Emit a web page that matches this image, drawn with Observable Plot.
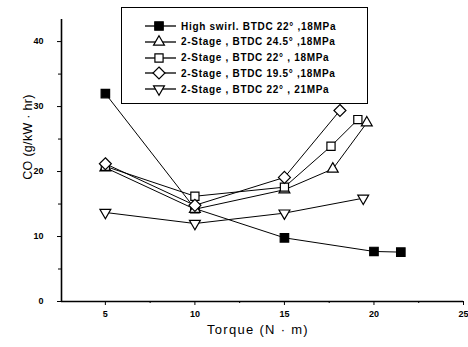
<!DOCTYPE html>
<html>
<head>
<meta charset="utf-8">
<script src="https://cdn.jsdelivr.net/npm/d3@7"></script>
<script src="https://cdn.jsdelivr.net/npm/@observablehq/plot@0.6"></script>
<style>
  html, body { margin: 0; padding: 0; background: #fff; }
  #wrap { position: relative; width: 468px; height: 347px; }
  #wrap svg { font-family: "Liberation Sans", Arial, sans-serif; }
  .axis-title {
    position: absolute; font-family: "Liberation Sans", Arial, sans-serif;
    color: #000; white-space: nowrap;
  }
  #xtitle { left: 207px; top: 322px; font-size: 13px; letter-spacing: 1.3px; }
  #ytitle {
    left: -42px; top: 129px; width: 140px; height: 16px; line-height: 16px; text-align: center;
    font-size: 12.5px; letter-spacing: 0.3px; transform: rotate(-90deg);
  }
  #legend {
    position: absolute; left: 121px; top: 7px; width: 247px; height: 97px;
    border: 1.3px solid #000; background: #fff; box-sizing: border-box;
    font-family: "Liberation Sans", Arial, sans-serif; font-size: 10px; font-weight: bold;
    letter-spacing: 0.7px; color: #000;
  }
  .row { position: absolute; left: 20px; height: 16px; display: flex; align-items: center; white-space: nowrap; }
  .row svg { margin-right: 3px; }
</style>
</head>
<body>
<div id="wrap">
  <div id="legend"></div>
  <div id="xtitle" class="axis-title">Torque (N · m)</div>
  <div id="ytitle" class="axis-title">CO (g/kW · hr)</div>
</div>
<script>
// CO emission vs torque for five injection strategies
const seriesNames = [
  "High swirl. BTDC 22° ,18MPa",
  "2-Stage , BTDC 24.5° ,18MPa",
  "2-Stage , BTDC 22° , 18MPa",
  "2-Stage , BTDC 19.5° ,18MPa",
  "2-Stage , BTDC 22° , 21MPa"
];
const torqueHighSwirl = [5, 10, 15, 20, 21.5];
const coHighSwirl     = [32, 14.3, 9.8, 7.7, 7.6];
const torqueStage245  = [5, 10, 15, 17.7, 19.6];
const coStage245      = [20.6, 14.2, 17.2, 20.4, 27.5];
const torqueStage22   = [5, 10, 15, 17.6, 19.1];
const coStage22       = [20.8, 16.2, 17.6, 23.9, 28.0];
const torqueStage195  = [5, 10, 15, 18.1];
const coStage195      = [21.2, 14.8, 19.1, 29.4];
const torqueStage2221 = [5, 10, 15, 19.4];
const coStage2221     = [13.7, 12.0, 13.6, 15.9];

const xTicks = [5, 10, 15, 20, 25];
const xMinor = [7.5, 12.5, 17.5, 22.5];
const yTicks = [0, 10, 20, 30, 40];
const yMinor = [5, 15, 25, 35];
const xDomain = [2.55, 25];
const yDomain = [0, 43.4];

// marker style per series: symbol, fill, rotation, radius
const styles = [
  {symbol: "square2", fill: "black", rotate: 0, r: 5.4},
  {symbol: "triangle2", fill: "white", rotate: 0, r: 5.2},
  {symbol: "square2", fill: "white", rotate: 0, r: 5.2},
  {symbol: "diamond2", fill: "white", rotate: 0, r: 5.4},
  {symbol: "triangle2", fill: "white", rotate: 180, r: 5.2}
];
const pairs = [
  [torqueHighSwirl, coHighSwirl],
  [torqueStage245, coStage245],
  [torqueStage22, coStage22],
  [torqueStage195, coStage195],
  [torqueStage2221, coStage2221]
];
const data = pairs.map(([xs, ys], i) =>
  xs.map((x, j) => ({series: seriesNames[i], idx: i, torque: x, co: ys[j]})));

const marks = [
  Plot.ruleY([yDomain[0]], {stroke: "black", strokeWidth: 1.6}),
  Plot.ruleX([xDomain[0]], {stroke: "black", strokeWidth: 1.6}),
  Plot.axisX({ticks: xTicks, tickSize: 4, tickPadding: 5, fontWeight: "bold", fontSize: 9, label: null}),
  Plot.axisX({ticks: xMinor, tickSize: 2, tickFormat: () => "", label: null}),
  Plot.axisY({ticks: yTicks, tickSize: 4, tickPadding: 14, fontWeight: "bold", fontSize: 9, label: null}),
  Plot.axisY({ticks: yMinor, tickSize: 3, tickFormat: () => "", label: null})
];
data.forEach(d => marks.push(Plot.line(d, {x: "torque", y: "co", stroke: "black", strokeWidth: 1})));
data.forEach((d, i) => {
  const s = styles[i];
  marks.push(Plot.dot(d, {x: "torque", y: "co", symbol: () => s.symbol, r: s.r,
    fill: s.fill, stroke: "black", strokeWidth: 1.2, rotate: s.rotate}));
});

const chart = Plot.plot({
  width: 468, height: 347,
  marginLeft: 61, marginRight: 5, marginTop: 19, marginBottom: 46,
  x: {domain: xDomain, label: null},
  y: {domain: yDomain, label: null},
  symbol: {type: "identity"},
  style: {fontFamily: "Liberation Sans, Arial, sans-serif", color: "black", background: "white"},
  marks
});
document.getElementById("wrap").prepend(chart);

// legend rows
const legend = document.getElementById("legend");
const symbolPaths = {
  "square2": d3.symbol(d3.symbolSquare2),
  "triangle2": d3.symbol(d3.symbolTriangle2),
  "diamond2": d3.symbol(d3.symbolDiamond2)
};
seriesNames.forEach((name, i) => {
  const s = styles[i];
  const row = document.createElement("div");
  row.className = "row";
  row.style.top = (10 + i * 15.8) + "px";
  const g = d3.create("svg").attr("width", 36).attr("height", 16);
  g.append("line").attr("x1", 3).attr("x2", 34).attr("y1", 8).attr("y2", 8).attr("stroke", "black").attr("stroke-width", 1.3);
  g.append("path").attr("d", symbolPaths[s.symbol].size(s.r * s.r * Math.PI)())
    .attr("transform", `translate(17,8) rotate(${s.rotate})`)
    .attr("fill", s.fill).attr("stroke", "black").attr("stroke-width", 1.2);
  row.append(g.node());
  const t = document.createElement("span");
  t.textContent = name;
  row.append(t);
  legend.append(row);
});
</script>
</body>
</html>
